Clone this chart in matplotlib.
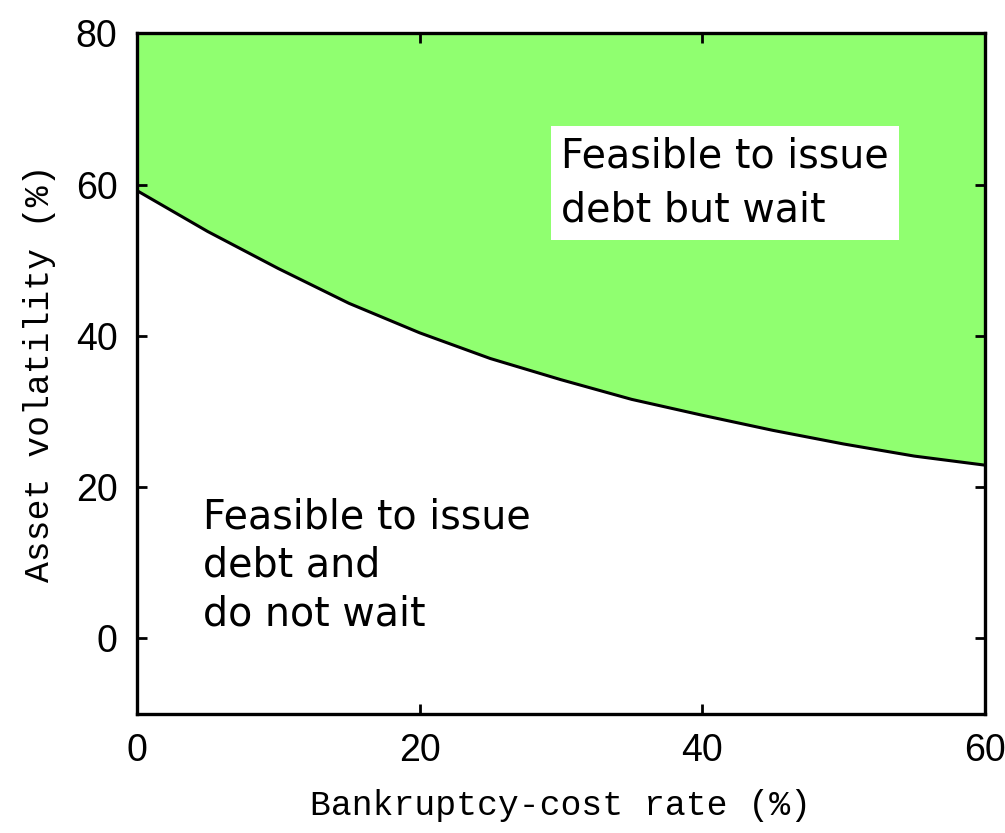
import numpy as np
import matplotlib.pyplot as plt

# boundary between the two regions
cost_rate = [0, 5, 10, 15, 20, 25, 30, 35, 40, 45, 50, 55, 60]
volatility = [59.2, 53.8, 48.9, 44.3, 40.4, 37.0, 34.2, 31.6, 29.5, 27.5, 25.7, 24.1, 22.9]

x_ticks = [0, 20, 40, 60]
y_ticks = [0, 20, 40, 60, 80]

label_font = "Liberation Mono"
text_font = "DejaVu Sans"
tick_font = "Liberation Sans"

fig = plt.figure(figsize=(10.05, 8.33), dpi=100)
ax = fig.add_axes([0.1363, 0.1429, 0.8437, 0.8171])

ax.fill_between(cost_rate, volatility, 80, color="#90ff70", lw=0)
ax.plot(cost_rate, volatility, color="black", lw=2.2)

ax.set_xlim(0, 60)
ax.set_ylim(-10, 80)
ax.set_xticks(x_ticks)
ax.set_yticks(y_ticks)
ax.tick_params(direction="in", length=7, width=2, top=True, right=True,
               labelsize=27, pad=14)
for lab in ax.get_xticklabels() + ax.get_yticklabels():
    lab.set_family(tick_font)
for sp in ax.spines.values():
    sp.set_linewidth(2.4)

ax.set_xlabel("Bankruptcy-cost rate (%)", fontsize=25, family=label_font, labelpad=14)
ax.set_ylabel("Asset volatility (%)", fontsize=25, family=label_font, labelpad=14)

ax.text(30, 60.2, "Feasible to issue\ndebt but wait", fontsize=28.5, family=text_font,
        va="center", ha="left", linespacing=1.45,
        bbox=dict(boxstyle="square,pad=0.25", fc="white", ec="none"))
ax.text(4.7, 9.6, "Feasible to issue\ndebt and\ndo not wait", fontsize=28.5,
        family=text_font, va="center", ha="left", linespacing=1.27)

fig.savefig("out.png", dpi=100)
